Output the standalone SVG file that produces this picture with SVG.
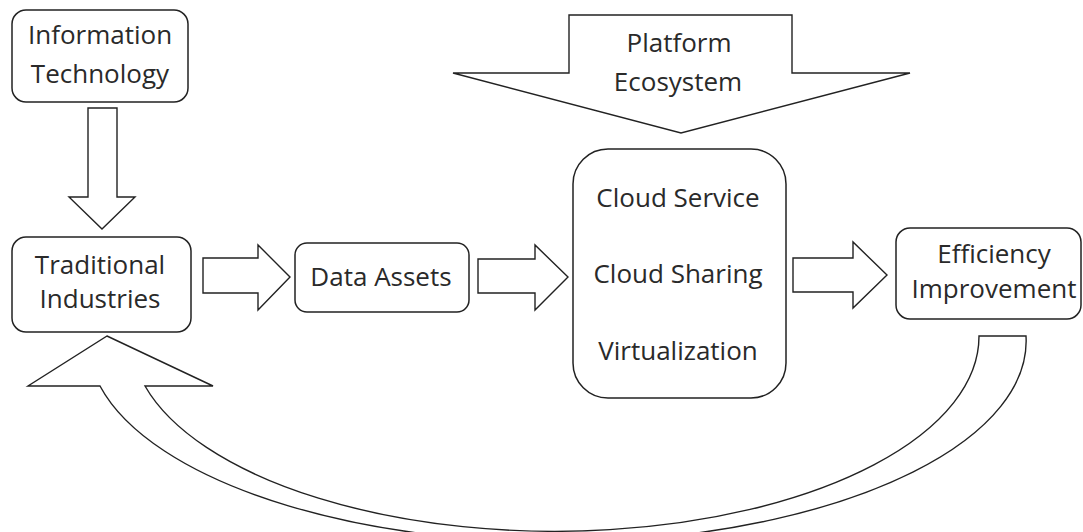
<svg xmlns="http://www.w3.org/2000/svg" width="1083" height="532" viewBox="0 0 1083 532">
<style>
.box{fill:#fff;stroke:#222;stroke-width:1.5}
.arr{fill:#fff;stroke:#222;stroke-width:1.4;stroke-linejoin:miter}
.t{font-family:"Open Sans","Noto Sans",sans-serif;font-size:26px;fill:#2a2a2a;text-anchor:middle}
</style>
<rect width="1083" height="532" fill="#fff"/>
<g id="connectors">
<polygon class="arr" points="88,108 117,108 117,197 135,197 102,229 69,197 88,197"/>
<polygon class="arr" points="569,15 792,15 792,73 910,73 681,133 453,73 569,73"/>
<polygon class="arr" points="203,258 258,258 258,245 290,277 258,310 258,293 203,293"/>
<polygon class="arr" points="478,259 535,259 535,245 568,277 535,310 535,293 478,293"/>
<polygon class="arr" points="793,258 853,258 853,242 887,275 853,308 853,292 793,292"/>
<path class="arr" d="M107,336 L213,386 L145,386 A424,195 0 0 0 979,336 L1026,336 A469,201 0 0 1 100,386 L28,386 Z"/>
</g>
<g id="information-technology">
<rect class="box" x="12" y="10" width="176" height="92" rx="14"/>
<text class="t" x="100" y="44">Information</text>
<text class="t" x="100" y="83">Technology</text>
</g>
<g id="traditional-industries">
<rect class="box" x="12" y="237" width="179" height="95" rx="14"/>
<text class="t" x="100" y="274">Traditional</text>
<text class="t" x="100" y="308">Industries</text>
</g>
<g id="data-assets">
<rect class="box" x="295" y="243" width="174" height="69" rx="12"/>
<text class="t" x="381" y="286">Data Assets</text>
</g>
<g id="cloud">
<rect class="box" x="573" y="149" width="213" height="249" rx="35"/>
<text class="t" x="678" y="207">Cloud Service</text>
<text class="t" x="678" y="283">Cloud Sharing</text>
<text class="t" x="678" y="360">Virtualization</text>
</g>
<g id="efficiency-improvement">
<rect class="box" x="896" y="228" width="185" height="91" rx="14"/>
<text class="t" x="994" y="263">Efficiency</text>
<text class="t" x="994" y="298">Improvement</text>
</g>
<g id="platform-ecosystem">
<text class="t" x="679" y="52">Platform</text>
<text class="t" x="678" y="91">Ecosystem</text>
</g>
</svg>
